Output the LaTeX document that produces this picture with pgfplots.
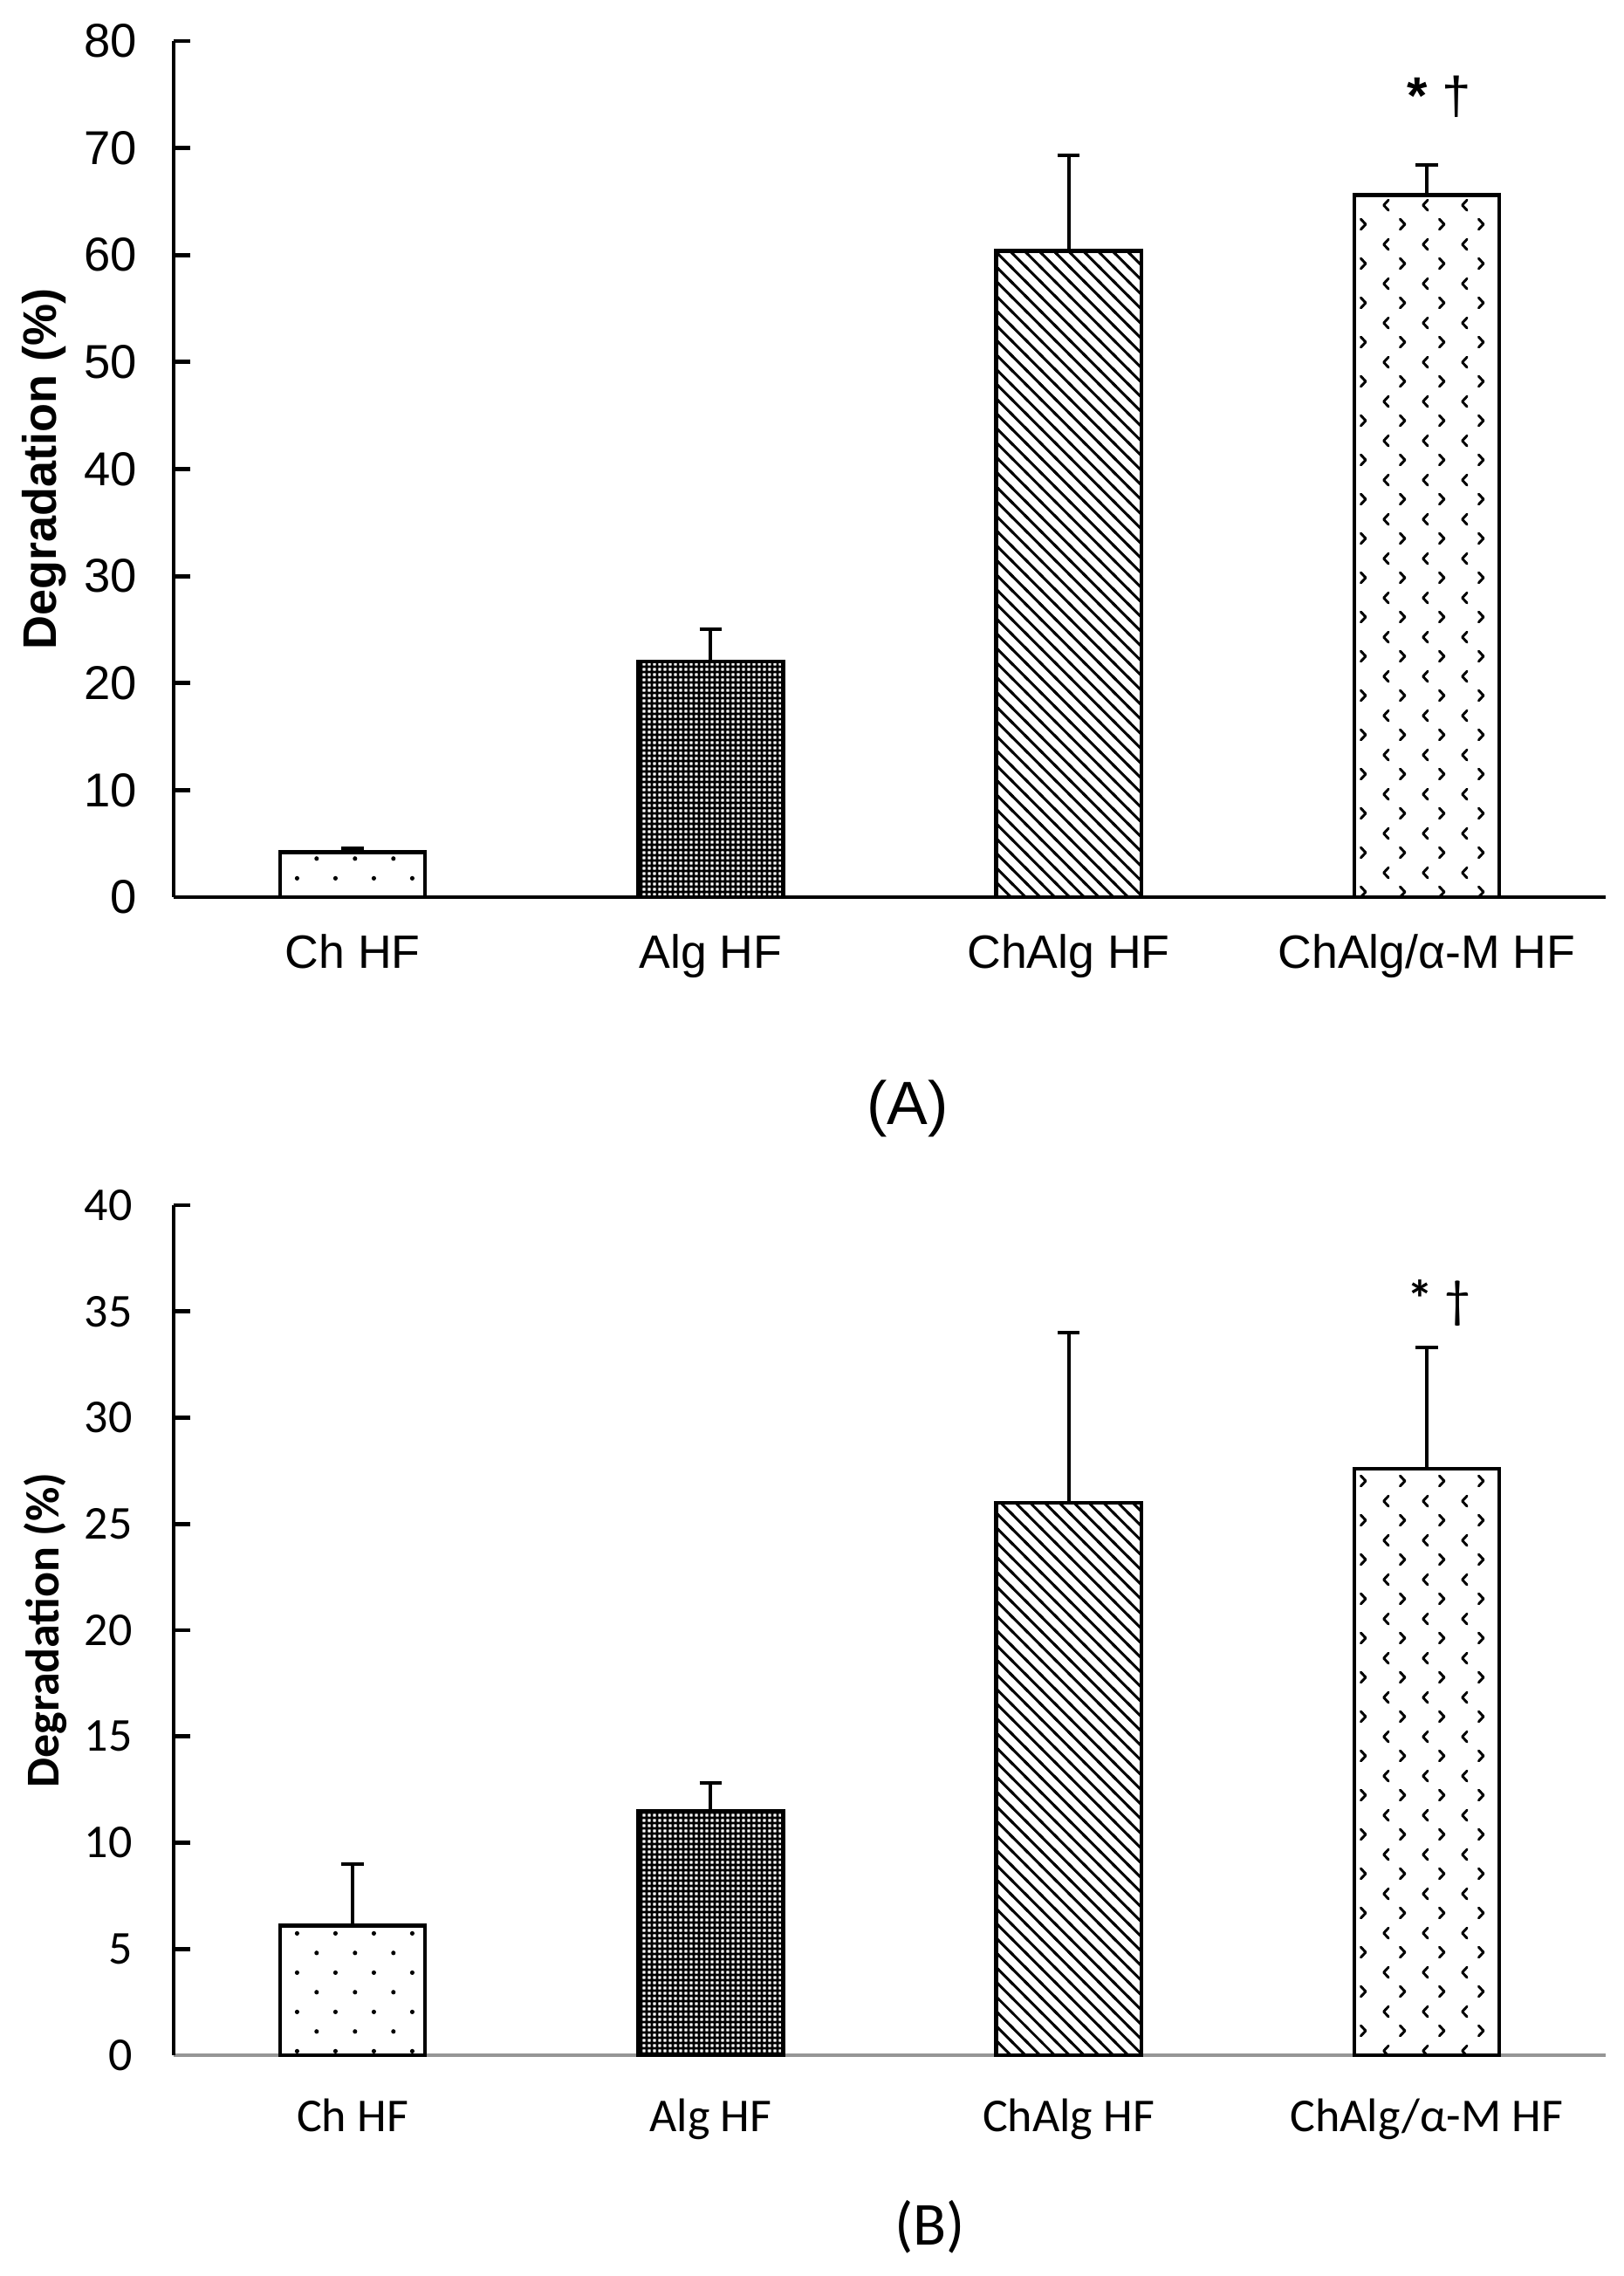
\documentclass[border=0pt]{standalone}
\usepackage{fontspec}
\setmainfont{Liberation Sans}
\newfontfamily\carlito{Carlito}
\usepackage{pgfplots}
\pgfplotsset{compat=1.18}
\usetikzlibrary{patterns}

\pgfdeclarepatternformonly{sparsedots}{\pgfpointorigin}{\pgfqpoint{11pt}{11.2pt}}{\pgfqpoint{11pt}{11.2pt}}{%
  \pgfpathcircle{\pgfqpoint{2.75pt}{2.8pt}}{0.65pt}%
  \pgfpathcircle{\pgfqpoint{8.25pt}{8.4pt}}{0.65pt}%
  \pgfusepath{fill}}
\pgfdeclarepatternformonly{checker}{\pgfpointorigin}{\pgfqpoint{1.6pt}{1.6pt}}{\pgfqpoint{1.6pt}{1.6pt}}{%
  \pgfpathrectangle{\pgfpointorigin}{\pgfqpoint{1.6pt}{1.6pt}}%
  \pgfpathrectangle{\pgfqpoint{0.35pt}{0.35pt}}{\pgfqpoint{0.9pt}{0.9pt}}%
  \pgfseteorule\pgfusepath{fill}}
\pgfdeclarepatternformonly{diaglines}{\pgfqpoint{-1pt}{-1pt}}{\pgfqpoint{5.2pt}{5.2pt}}{\pgfqpoint{4.2pt}{4.2pt}}{%
  \pgfsetlinewidth{0.75pt}%
  \pgfpathmoveto{\pgfqpoint{-0.5pt}{4.7pt}}%
  \pgfpathlineto{\pgfqpoint{4.7pt}{-0.5pt}}%
  \pgfusepath{stroke}}
\pgfdeclarepatternformonly{chevrons}{\pgfpointorigin}{\pgfqpoint{11.25pt}{11.25pt}}{\pgfqpoint{11.25pt}{11.25pt}}{%
  \pgfsetlinewidth{0.75pt}\pgfsetroundcap\pgfsetroundjoin
  \pgfpathmoveto{\pgfqpoint{4.1pt}{9.9pt}}%
  \pgfpathlineto{\pgfqpoint{2.7pt}{8.4pt}}%
  \pgfpathlineto{\pgfqpoint{4.1pt}{6.9pt}}%
  \pgfpathmoveto{\pgfqpoint{7.5pt}{4.3pt}}%
  \pgfpathlineto{\pgfqpoint{8.9pt}{2.8pt}}%
  \pgfpathlineto{\pgfqpoint{7.5pt}{1.3pt}}%
  \pgfusepath{stroke}}

\pgfplotsset{
  mybars/.style={
    scale only axis, width=410.25pt,
    xmin=-0.5, xmax=3.5, ymin=0,
    axis x line*=bottom, axis y line*=left,
    axis line style={line width=1.2pt, black},
    xtick={0,1,2,3},
    xticklabels={Ch HF, Alg HF, ChAlg HF, ChAlg/α-M HF},
    xtick style={draw=none},
    ytick style={line width=1.2pt, black},
    major tick length=4.7pt,
    tick align=inside,
    /pgf/number format/assume math mode=true,
    clip=false,
    ylabel={Degradation (\%)},
  },
  mybar/.style={ybar, bar width=0.405, bar shift=0pt, draw=black, line width=1.1pt,
    pattern=#1, pattern color=black,
    error bars/.cd, y dir=plus, y explicit,
    error bar style={line width=1pt, black, solid},
    error mark options={rotate=90, line width=1pt, mark size=3.2pt, black}},
}

\begin{document}
\begin{tikzpicture}
\useasboundingbox (0,0) rectangle (465pt,652pt);

% ---------- (A) ----------
\begin{axis}[mybars,
  at={(49.75pt,395pt)}, anchor=south west, height=245.25pt,
  ymax=80, ytick={0,10,...,80},
  yticklabels={0,10,20,30,40,50,60,70,80},
  yticklabel style={font=\fontsize{13.6}{13.6}\selectfont, xshift=-7pt},
  xticklabel style={font=\fontsize{13.4}{13.4}\selectfont, anchor=base, yshift=-20.5pt},
  ylabel style={font=\bfseries\fontsize{13.5}{13.5}\selectfont, at={(axis description cs:-0.0905,0.5)}, anchor=center},
]
\addplot[mybar=sparsedots] coordinates {(0,4.2) +- (0,0.4)};
\addplot[mybar=checker] coordinates {(1,22.0) +- (0,3.0)};
\addplot[mybar=diaglines] coordinates {(2,60.4) +- (0,8.9)};
\addplot[mybar=chevrons] coordinates {(3,65.6) +- (0,2.8)};
\node[font=\fontsize{15}{15}\selectfont] at (axis cs:3.034,74.8) {\textbf{*} †};
\node[font=\fontsize{17.5}{17.5}\selectfont] at (rel axis cs:0.5125,-0.2467) {(A)};
\end{axis}

% ---------- (B) ----------
\begin{axis}[mybars,
  at={(49.75pt,63.25pt)}, anchor=south west, height=243.5pt,
  ymax=40, ytick={0,5,...,40},
  yticklabels={0,5,10,15,20,25,30,35,40},
  x axis line style={draw={rgb,255:red,150;green,150;blue,150}, line width=1pt},
  yticklabel style={font=\carlito\fontsize{13.5}{13.5}\selectfont, xshift=-8.3pt},
  xticklabel style={font=\carlito\fontsize{13.5}{13.5}\selectfont, anchor=base, yshift=-22pt},
  ylabel style={font=\carlito\bfseries\fontsize{13.5}{13.5}\selectfont, at={(axis description cs:-0.0896,0.5)}, anchor=center},
]
\addplot[mybar=sparsedots] coordinates {(0,6.1) +- (0,2.9)};
\addplot[mybar=checker] coordinates {(1,11.5) +- (0,1.3)};
\addplot[mybar=diaglines] coordinates {(2,26.0) +- (0,8.0)};
\addplot[mybar=chevrons] coordinates {(3,27.6) +- (0,5.7)};
\node[font=\carlito\fontsize{15}{15}\selectfont] at (axis cs:3.034,35.4) {\textbf{*} †};
\node[font=\carlito\fontsize{17.5}{17.5}\selectfont] at (rel axis cs:0.528,-0.2023) {(B)};
\end{axis}
\end{tikzpicture}
\end{document}
